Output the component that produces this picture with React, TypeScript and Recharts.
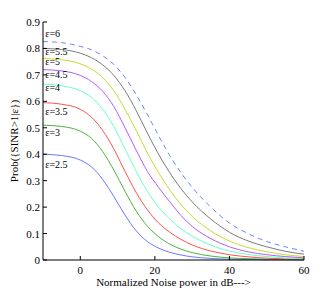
import { LineChart, Line, XAxis, YAxis, ReferenceDot } from 'recharts'

// ============================================
// Data
// ============================================

const noiseDb = [-10, -5, 0, 3, 6, 9, 12, 15, 18, 21, 24, 27, 30, 35, 40, 45, 50, 55, 60]

const eps25 = [0.4, 0.395, 0.378, 0.352, 0.305, 0.24, 0.17, 0.11, 0.07, 0.045, 0.029, 0.019, 0.012, 0.006, 0.003, 0.002, 0.001, 0.001, 0.0005]
const eps3 = [0.51, 0.505, 0.487, 0.46, 0.41, 0.34, 0.26, 0.185, 0.128, 0.088, 0.06, 0.041, 0.028, 0.015, 0.008, 0.005, 0.003, 0.002, 0.001]
const eps35 = [0.595, 0.589, 0.57, 0.54, 0.49, 0.42, 0.335, 0.255, 0.19, 0.14, 0.105, 0.078, 0.057, 0.034, 0.02, 0.012, 0.007, 0.004, 0.003]
const eps4 = [0.665, 0.659, 0.64, 0.615, 0.57, 0.505, 0.42, 0.335, 0.26, 0.2, 0.155, 0.118, 0.09, 0.056, 0.034, 0.021, 0.013, 0.008, 0.005]
const eps45 = [0.72, 0.715, 0.698, 0.675, 0.638, 0.58, 0.5, 0.415, 0.335, 0.275, 0.22, 0.168, 0.127, 0.081, 0.05, 0.031, 0.02, 0.013, 0.008]
const eps5 = [0.762, 0.757, 0.742, 0.722, 0.69, 0.64, 0.57, 0.49, 0.405, 0.33, 0.265, 0.21, 0.165, 0.11, 0.072, 0.047, 0.031, 0.02, 0.013]
const eps55 = [0.8, 0.796, 0.782, 0.765, 0.738, 0.698, 0.64, 0.565, 0.48, 0.4, 0.33, 0.27, 0.22, 0.155, 0.105, 0.072, 0.05, 0.033, 0.022]
const eps6 = [0.826, 0.822, 0.808, 0.795, 0.772, 0.74, 0.69, 0.625, 0.55, 0.47, 0.395, 0.33, 0.275, 0.2, 0.14, 0.1, 0.07, 0.05, 0.033]

const seriesKeys = ['e25', 'e3', 'e35', 'e4', 'e45', 'e5', 'e55', 'e6']
const seriesValues = [eps25, eps3, eps35, eps4, eps45, eps5, eps55, eps6]
const seriesColors = ['#6a78ff', '#4cb43c', '#ff5050', '#66ffc8', '#b45aff', '#c8dc28', '#7a7a7a', '#6a86ff']

// curve annotations (data coords)
const labelTexts = ['ε=2.5', 'ε=3', 'ε=3.5', 'ε=4', 'ε=4.5', 'ε=5', 'ε=5.5', 'ε=6']
const labelY = [0.36, 0.484, 0.56, 0.654, 0.7, 0.749, 0.787, 0.855]
const labelX = -9.4

const xTicks = [0, 20, 40, 60]
const xTopTicks = [0, 20, 40]
const yTicks = [0, 0.1, 0.2, 0.3, 0.4, 0.5, 0.6, 0.7, 0.8, 0.9]
const yRightTicks = [0.1, 0.2, 0.3, 0.4, 0.5, 0.6, 0.7, 0.8]

const rows = noiseDb.map((x, i) => {
  const row: Record<string, number> = { x }
  seriesKeys.forEach((k, j) => {
    row[k] = seriesValues[j][i]
  })
  return row
})

const FONT = 'Liberation Serif, Times New Roman, DejaVu Serif, serif'
const txt = { fontFamily: FONT }

// ============================================
// Tick renderers (MATLAB style: ticks point inward)
// ============================================

function BottomTick({ x, y, payload }: any) {
  return (
    <g>
      <line x1={x} y1={y} x2={x} y2={y - 4} stroke="#000" />
      <text x={x} y={y + 14} textAnchor="middle" fontSize={11} style={txt} fill="#000">
        {payload.value}
      </text>
    </g>
  )
}

function LeftTick({ x, y, payload }: any) {
  const v = payload.value === 0 ? '0' : Number(payload.value).toFixed(1)
  return (
    <g>
      <line x1={x} y1={y} x2={x + 4} y2={y} stroke="#000" />
      <text x={x - 3} y={y + 4} textAnchor="end" fontSize={11} style={txt} fill="#000">
        {v}
      </text>
    </g>
  )
}

function TopTick({ x, y }: any) {
  return <line x1={x} y1={y} x2={x} y2={y + 4} stroke="#555" />
}

function RightTick({ x, y }: any) {
  return <line x1={x} y1={y} x2={x - 4} y2={y} stroke="#555" />
}

function XTitle({ viewBox }: any) {
  return (
    <text x={viewBox.x + viewBox.width / 2} y={viewBox.y + 26} textAnchor="middle" fontSize={11} style={txt} fill="#000">
      Normalized Noise power in dB---&gt;
    </text>
  )
}

function YTitle({ viewBox }: any) {
  const cx = viewBox.x + 14
  const cy = viewBox.y + viewBox.height / 2
  return (
    <text x={cx} y={cy} transform={`rotate(-90 ${cx} ${cy})`} textAnchor="middle" dominantBaseline="central" fontSize={11} style={txt} fill="#000">
      Prob({'{'}SINR&gt;1|ε{'}'})
    </text>
  )
}

function CurveLabel({ viewBox, value }: any) {
  return (
    <text x={viewBox.x} y={viewBox.y + viewBox.height / 2 + 3.5} fontSize={10} style={txt} fill="#000">
      {value}
    </text>
  )
}

// ============================================
// Main Component
// ============================================

export default function App() {
  return (
    <div style={{ position: 'absolute', left: 0, top: 0, width: 336, height: 294, background: '#fff', fontFamily: FONT }}>
      <LineChart width={336} height={294} data={rows} margin={{ top: 22, right: 32, bottom: 0, left: 0 }}>
        <XAxis
          dataKey="x"
          type="number"
          domain={[-10, 60]}
          ticks={xTicks}
          height={34}
          stroke="#000"
          tickSize={0}
          tickMargin={0}
          tick={<BottomTick />}
          label={{ content: <XTitle /> }}
        />
        <XAxis
          xAxisId="top"
          dataKey="x"
          type="number"
          orientation="top"
          domain={[-10, 60]}
          ticks={xTopTicks}
          height={0}
          stroke="#8c8c8c"
          strokeWidth={2}
          tickSize={0}
          tickMargin={0}
          tick={<TopTick />}
        />
        <YAxis
          type="number"
          domain={[0, 0.9]}
          ticks={yTicks}
          width={43}
          stroke="#000"
          tickSize={0}
          tickMargin={0}
          tick={<LeftTick />}
          label={{ content: <YTitle /> }}
        />
        <YAxis
          yAxisId="right"
          type="number"
          orientation="right"
          domain={[0, 0.9]}
          ticks={yRightTicks}
          width={0}
          stroke="#8c8c8c"
          strokeWidth={2}
          tickSize={0}
          tickMargin={0}
          tick={<RightTick />}
        />

        {seriesKeys.map((k, j) => (
          <Line
            key={k}
            dataKey={k}
            type="monotone"
            stroke={seriesColors[j]}
            strokeWidth={1}
            strokeDasharray={k === 'e6' ? '5 4' : undefined}
            dot={false}
            isAnimationActive={false}
          />
        ))}

        {labelTexts.map((t, i) => (
          <ReferenceDot
            key={t}
            x={labelX}
            y={labelY[i]}
            r={0}
            fill="none"
            stroke="none"
            label={{ value: t, content: <CurveLabel /> }}
          />
        ))}
      </LineChart>
    </div>
  )
}
